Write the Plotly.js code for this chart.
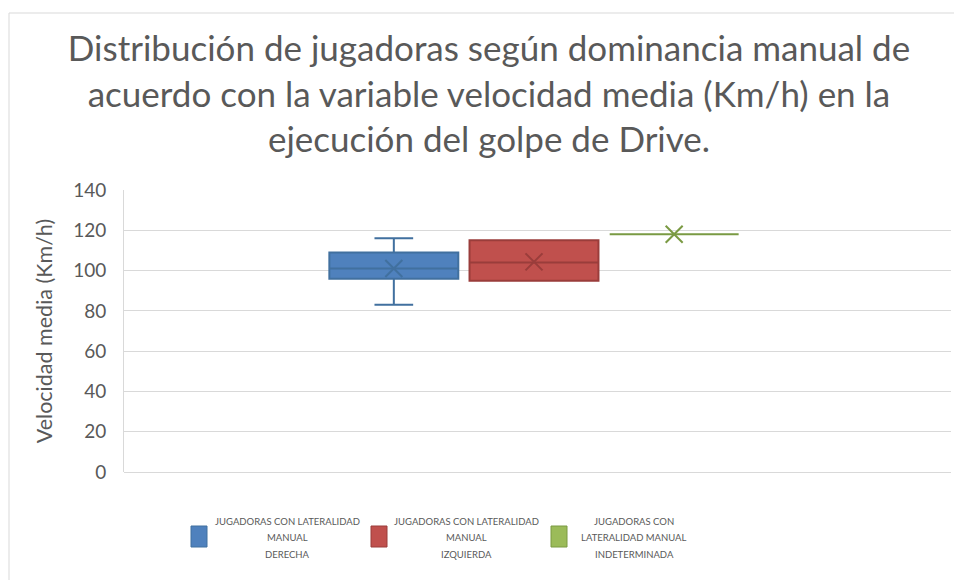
<!DOCTYPE html>
<html>
<head>
<meta charset="utf-8">
<script src="https://cdn.plot.ly/plotly-3.0.1.min.js"></script>
<style>html,body{margin:0;padding:0;background:#fff;}#chart{width:954px;height:580px;}</style>
</head>
<body>
<div id="chart"></div>
<script>
// ---- data ----
var seriesNames = [
  "JUGADORAS CON LATERALIDAD MANUAL DERECHA",
  "JUGADORAS CON LATERALIDAD MANUAL IZQUIERDA",
  "JUGADORAS CON LATERALIDAD MANUAL INDETERMINADA"
];
var legendLines = [
  ["JUGADORAS CON LATERALIDAD", "MANUAL", "DERECHA"],
  ["JUGADORAS CON LATERALIDAD", "MANUAL", "IZQUIERDA"],
  ["JUGADORAS CON", "LATERALIDAD MANUAL", "INDETERMINADA"]
];
var positions = [1, 2, 3];
var minValues    = [83, 95, 118];
var q1Values     = [96, 95, 118];
var medianValues = [101, 104, 118];
var q3Values     = [109, 115, 118];
var maxValues    = [116, 115, 118];
var meanValues   = [101, 104.3, 118];
var yTicks = [0, 20, 40, 60, 80, 100, 120, 140];

var fillColors = ["#4f81bd", "#c0504d", "#9bbb59"];
var lineColors = ["#41709f", "#9a3d3b", "#7a9a43"];

// plot geometry helpers (pixels -> paper)
var L = 124, R = 951, T = 190, B = 472;
function px(x){ return (x - L) / (R - L); }
function py(y){ return (B - y) / (B - T); }

var FONT = "Lato, 'Open Sans', sans-serif";

var traces = [];
for (var i = 0; i < seriesNames.length; i++) {
  traces.push({
    type: "box",
    name: seriesNames[i],
    x: [positions[i]],
    q1: [q1Values[i]],
    median: [medianValues[i]],
    q3: [q3Values[i]],
    lowerfence: [minValues[i]],
    upperfence: [maxValues[i]],
    width: 0.92,
    whiskerwidth: 0.3,
    fillcolor: fillColors[i],
    line: { color: lineColors[i], width: 2 },
    showlegend: false,
    hoverinfo: "skip"
  });
  traces.push({
    type: "scatter",
    mode: "markers",
    x: [positions[i]],
    y: [meanValues[i]],
    marker: { symbol: "x-thin-open", size: 17, color: lineColors[i], line: { color: lineColors[i], width: 2 } },
    showlegend: false,
    hoverinfo: "skip"
  });
}

var shapes = [
  { type: "rect", xref: "paper", yref: "paper", x0: px(9), x1: px(1000), y0: py(1000), y1: py(13),
    line: { color: "#d9d9d9", width: 1 }, fillcolor: "rgba(0,0,0,0)", layer: "below" }
];
var annotations = [];
var sqX = [191, 371, 551];
var txtX = [287, 466, 634];
var lineY = [521, 537.5, 554];
for (var j = 0; j < legendLines.length; j++) {
  shapes.push({ type: "rect", xref: "paper", yref: "paper",
    x0: px(sqX[j]), x1: px(sqX[j] + 16), y0: py(547), y1: py(526),
    fillcolor: fillColors[j], line: { color: lineColors[j], width: 1 } });
  for (var k = 0; k < legendLines[j].length; k++) {
    annotations.push({ xref: "paper", yref: "paper", x: px(txtX[j]), y: py(lineY[k]),
      xanchor: "center", yanchor: "middle", align: "center", showarrow: false,
      text: legendLines[j][k], font: { family: FONT, size: 9.5, color: "#595959" } });
  }
}

var layout = {
  width: 954, height: 580,
  margin: { l: L, r: 954 - R, t: T, b: 580 - B, pad: 0 },
  paper_bgcolor: "#ffffff", plot_bgcolor: "#ffffff",
  font: { family: FONT, color: "#595959" },
  title: {
    text: "Distribución de jugadoras según dominancia manual de<br>acuerdo con la variable velocidad media (Km/h) en la<br>ejecución del golpe de Drive.",
    font: { family: FONT, size: 35, color: "#595959" },
    x: 489 / 954, xref: "container", xanchor: "center",
    y: 1 - 61 / 580, yref: "container", yanchor: "top"
  },
  boxmode: "overlay",
  xaxis: {
    range: [-0.925, 4.975], showgrid: false, zeroline: false, showticklabels: false,
    showline: false, ticks: "", fixedrange: true
  },
  yaxis: {
    range: [0, 140], tickvals: yTicks, ticktext: yTicks.map(String),
    showgrid: true, gridcolor: "#d9d9d9", gridwidth: 1,
    zeroline: true, zerolinecolor: "#d9d9d9", zerolinewidth: 1,
    showline: true, linecolor: "#d9d9d9", linewidth: 1,
    ticks: "", ticklabelstandoff: 13,
    tickfont: { size: 19, color: "#595959" },
    title: { text: "Velocidad media (Km/h)", font: { size: 21.5, color: "#595959" }, standoff: 14 }
  },
  shapes: shapes,
  annotations: annotations,
  showlegend: false
};

Plotly.newPlot("chart", traces, layout, { staticPlot: true, displayModeBar: false });
</script>
</body>
</html>
